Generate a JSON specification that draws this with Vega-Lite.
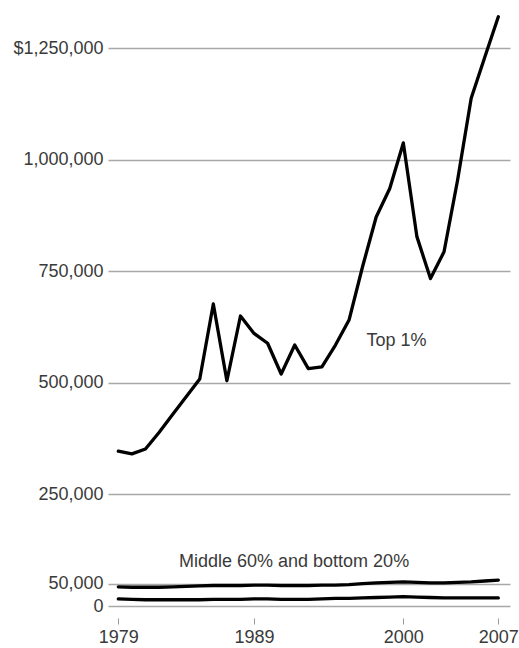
{
  "$schema": "https://vega.github.io/schema/vega-lite/v6.json",
  "width": 402,
  "height": 596,
  "autosize": {"type": "none"},
  "padding": {"left": 108, "right": 9, "top": 10, "bottom": 42},
  "background": "white",
  "config": {
    "view": {"stroke": null},
    "font": "Liberation Sans",
    "axis": {"labelFont": "Liberation Sans", "labelColor": "#3a3a3a", "labelFontSize": 18}
  },
  "datasets": {
    "income": [
      {"year": 1979, "group": "Top 1%", "value": 347000},
      {"year": 1980, "group": "Top 1%", "value": 341000},
      {"year": 1981, "group": "Top 1%", "value": 352000},
      {"year": 1982, "group": "Top 1%", "value": 389000},
      {"year": 1983, "group": "Top 1%", "value": 429000},
      {"year": 1984, "group": "Top 1%", "value": 469000},
      {"year": 1985, "group": "Top 1%", "value": 509000},
      {"year": 1986, "group": "Top 1%", "value": 677000},
      {"year": 1987, "group": "Top 1%", "value": 505000},
      {"year": 1988, "group": "Top 1%", "value": 650000},
      {"year": 1989, "group": "Top 1%", "value": 611000},
      {"year": 1990, "group": "Top 1%", "value": 589000},
      {"year": 1991, "group": "Top 1%", "value": 520000},
      {"year": 1992, "group": "Top 1%", "value": 585000},
      {"year": 1993, "group": "Top 1%", "value": 532000},
      {"year": 1994, "group": "Top 1%", "value": 536000},
      {"year": 1995, "group": "Top 1%", "value": 585000},
      {"year": 1996, "group": "Top 1%", "value": 641000},
      {"year": 1997, "group": "Top 1%", "value": 761000},
      {"year": 1998, "group": "Top 1%", "value": 872000},
      {"year": 1999, "group": "Top 1%", "value": 936000},
      {"year": 2000, "group": "Top 1%", "value": 1038000},
      {"year": 2001, "group": "Top 1%", "value": 828000},
      {"year": 2002, "group": "Top 1%", "value": 734000},
      {"year": 2003, "group": "Top 1%", "value": 794000},
      {"year": 2004, "group": "Top 1%", "value": 955000},
      {"year": 2005, "group": "Top 1%", "value": 1138000},
      {"year": 2006, "group": "Top 1%", "value": 1230000},
      {"year": 2007, "group": "Top 1%", "value": 1321000},
      {"year": 1979, "group": "Middle 60%", "value": 43000},
      {"year": 1980, "group": "Middle 60%", "value": 42000},
      {"year": 1981, "group": "Middle 60%", "value": 42000},
      {"year": 1982, "group": "Middle 60%", "value": 42000},
      {"year": 1983, "group": "Middle 60%", "value": 43000},
      {"year": 1984, "group": "Middle 60%", "value": 44000},
      {"year": 1985, "group": "Middle 60%", "value": 45000},
      {"year": 1986, "group": "Middle 60%", "value": 46000},
      {"year": 1987, "group": "Middle 60%", "value": 46000},
      {"year": 1988, "group": "Middle 60%", "value": 46000},
      {"year": 1989, "group": "Middle 60%", "value": 47000},
      {"year": 1990, "group": "Middle 60%", "value": 47000},
      {"year": 1991, "group": "Middle 60%", "value": 46000},
      {"year": 1992, "group": "Middle 60%", "value": 46000},
      {"year": 1993, "group": "Middle 60%", "value": 46000},
      {"year": 1994, "group": "Middle 60%", "value": 47000},
      {"year": 1995, "group": "Middle 60%", "value": 47000},
      {"year": 1996, "group": "Middle 60%", "value": 48000},
      {"year": 1997, "group": "Middle 60%", "value": 50000},
      {"year": 1998, "group": "Middle 60%", "value": 52000},
      {"year": 1999, "group": "Middle 60%", "value": 53000},
      {"year": 2000, "group": "Middle 60%", "value": 54000},
      {"year": 2001, "group": "Middle 60%", "value": 53000},
      {"year": 2002, "group": "Middle 60%", "value": 52000},
      {"year": 2003, "group": "Middle 60%", "value": 52000},
      {"year": 2004, "group": "Middle 60%", "value": 53000},
      {"year": 2005, "group": "Middle 60%", "value": 54000},
      {"year": 2006, "group": "Middle 60%", "value": 56000},
      {"year": 2007, "group": "Middle 60%", "value": 58000},
      {"year": 1979, "group": "Bottom 20%", "value": 16000},
      {"year": 1980, "group": "Bottom 20%", "value": 15000},
      {"year": 1981, "group": "Bottom 20%", "value": 14000},
      {"year": 1982, "group": "Bottom 20%", "value": 14000},
      {"year": 1983, "group": "Bottom 20%", "value": 14000},
      {"year": 1984, "group": "Bottom 20%", "value": 14000},
      {"year": 1985, "group": "Bottom 20%", "value": 14000},
      {"year": 1986, "group": "Bottom 20%", "value": 15000},
      {"year": 1987, "group": "Bottom 20%", "value": 15000},
      {"year": 1988, "group": "Bottom 20%", "value": 15000},
      {"year": 1989, "group": "Bottom 20%", "value": 16000},
      {"year": 1990, "group": "Bottom 20%", "value": 16000},
      {"year": 1991, "group": "Bottom 20%", "value": 15000},
      {"year": 1992, "group": "Bottom 20%", "value": 15000},
      {"year": 1993, "group": "Bottom 20%", "value": 15000},
      {"year": 1994, "group": "Bottom 20%", "value": 16000},
      {"year": 1995, "group": "Bottom 20%", "value": 17000},
      {"year": 1996, "group": "Bottom 20%", "value": 17000},
      {"year": 1997, "group": "Bottom 20%", "value": 18000},
      {"year": 1998, "group": "Bottom 20%", "value": 19000},
      {"year": 1999, "group": "Bottom 20%", "value": 20000},
      {"year": 2000, "group": "Bottom 20%", "value": 21000},
      {"year": 2001, "group": "Bottom 20%", "value": 20000},
      {"year": 2002, "group": "Bottom 20%", "value": 19000},
      {"year": 2003, "group": "Bottom 20%", "value": 18000},
      {"year": 2004, "group": "Bottom 20%", "value": 18000},
      {"year": 2005, "group": "Bottom 20%", "value": 18000},
      {"year": 2006, "group": "Bottom 20%", "value": 18000},
      {"year": 2007, "group": "Bottom 20%", "value": 18000}
    ],
    "labels": [
      {"year": 1999.5, "value": 594000, "text": "Top 1%"},
      {"year": 1991.95, "value": 99000, "text": "Middle 60% and bottom 20%"}
    ]
  },
  "layer": [
    {
      "data": {"name": "income"},
      "mark": {"type": "line", "color": "black", "strokeWidth": 3.3, "strokeJoin": "round", "strokeCap": "round"},
      "encoding": {
        "x": {
          "field": "year", "type": "quantitative",
          "scale": {"domain": [1978.24, 2007.86], "nice": false, "zero": false},
          "axis": {
            "title": null, "values": [1979, 1989, 2000, 2007], "format": "d",
            "domain": false, "grid": false, "offset": 12, "tickSize": 6,
            "tickColor": "#999999", "tickWidth": 1, "labelPadding": 4,
            "labelFlush": false
          }
        },
        "y": {
          "field": "value", "type": "quantitative",
          "scale": {"domain": [0, 1336000], "nice": false},
          "axis": {
            "title": null, "values": [0, 50000, 250000, 500000, 750000, 1000000, 1250000],
            "labelExpr": "datum.value == 1250000 ? '$1,250,000' : format(datum.value, ',')",
            "domain": false, "ticks": false, "labelPadding": 5,
            "grid": true, "gridColor": "#a8a8a8", "gridWidth": 1.5,
            "labelBaseline": "middle"
          }
        },
        "detail": {"field": "group"}
      }
    },
    {
      "data": {"name": "labels"},
      "mark": {"type": "text", "fontSize": 18, "color": "#3a3a3a", "font": "Liberation Sans", "align": "center", "baseline": "middle"},
      "encoding": {
        "x": {"field": "year", "type": "quantitative"},
        "y": {"field": "value", "type": "quantitative"},
        "text": {"field": "text"}
      }
    }
  ]
}
